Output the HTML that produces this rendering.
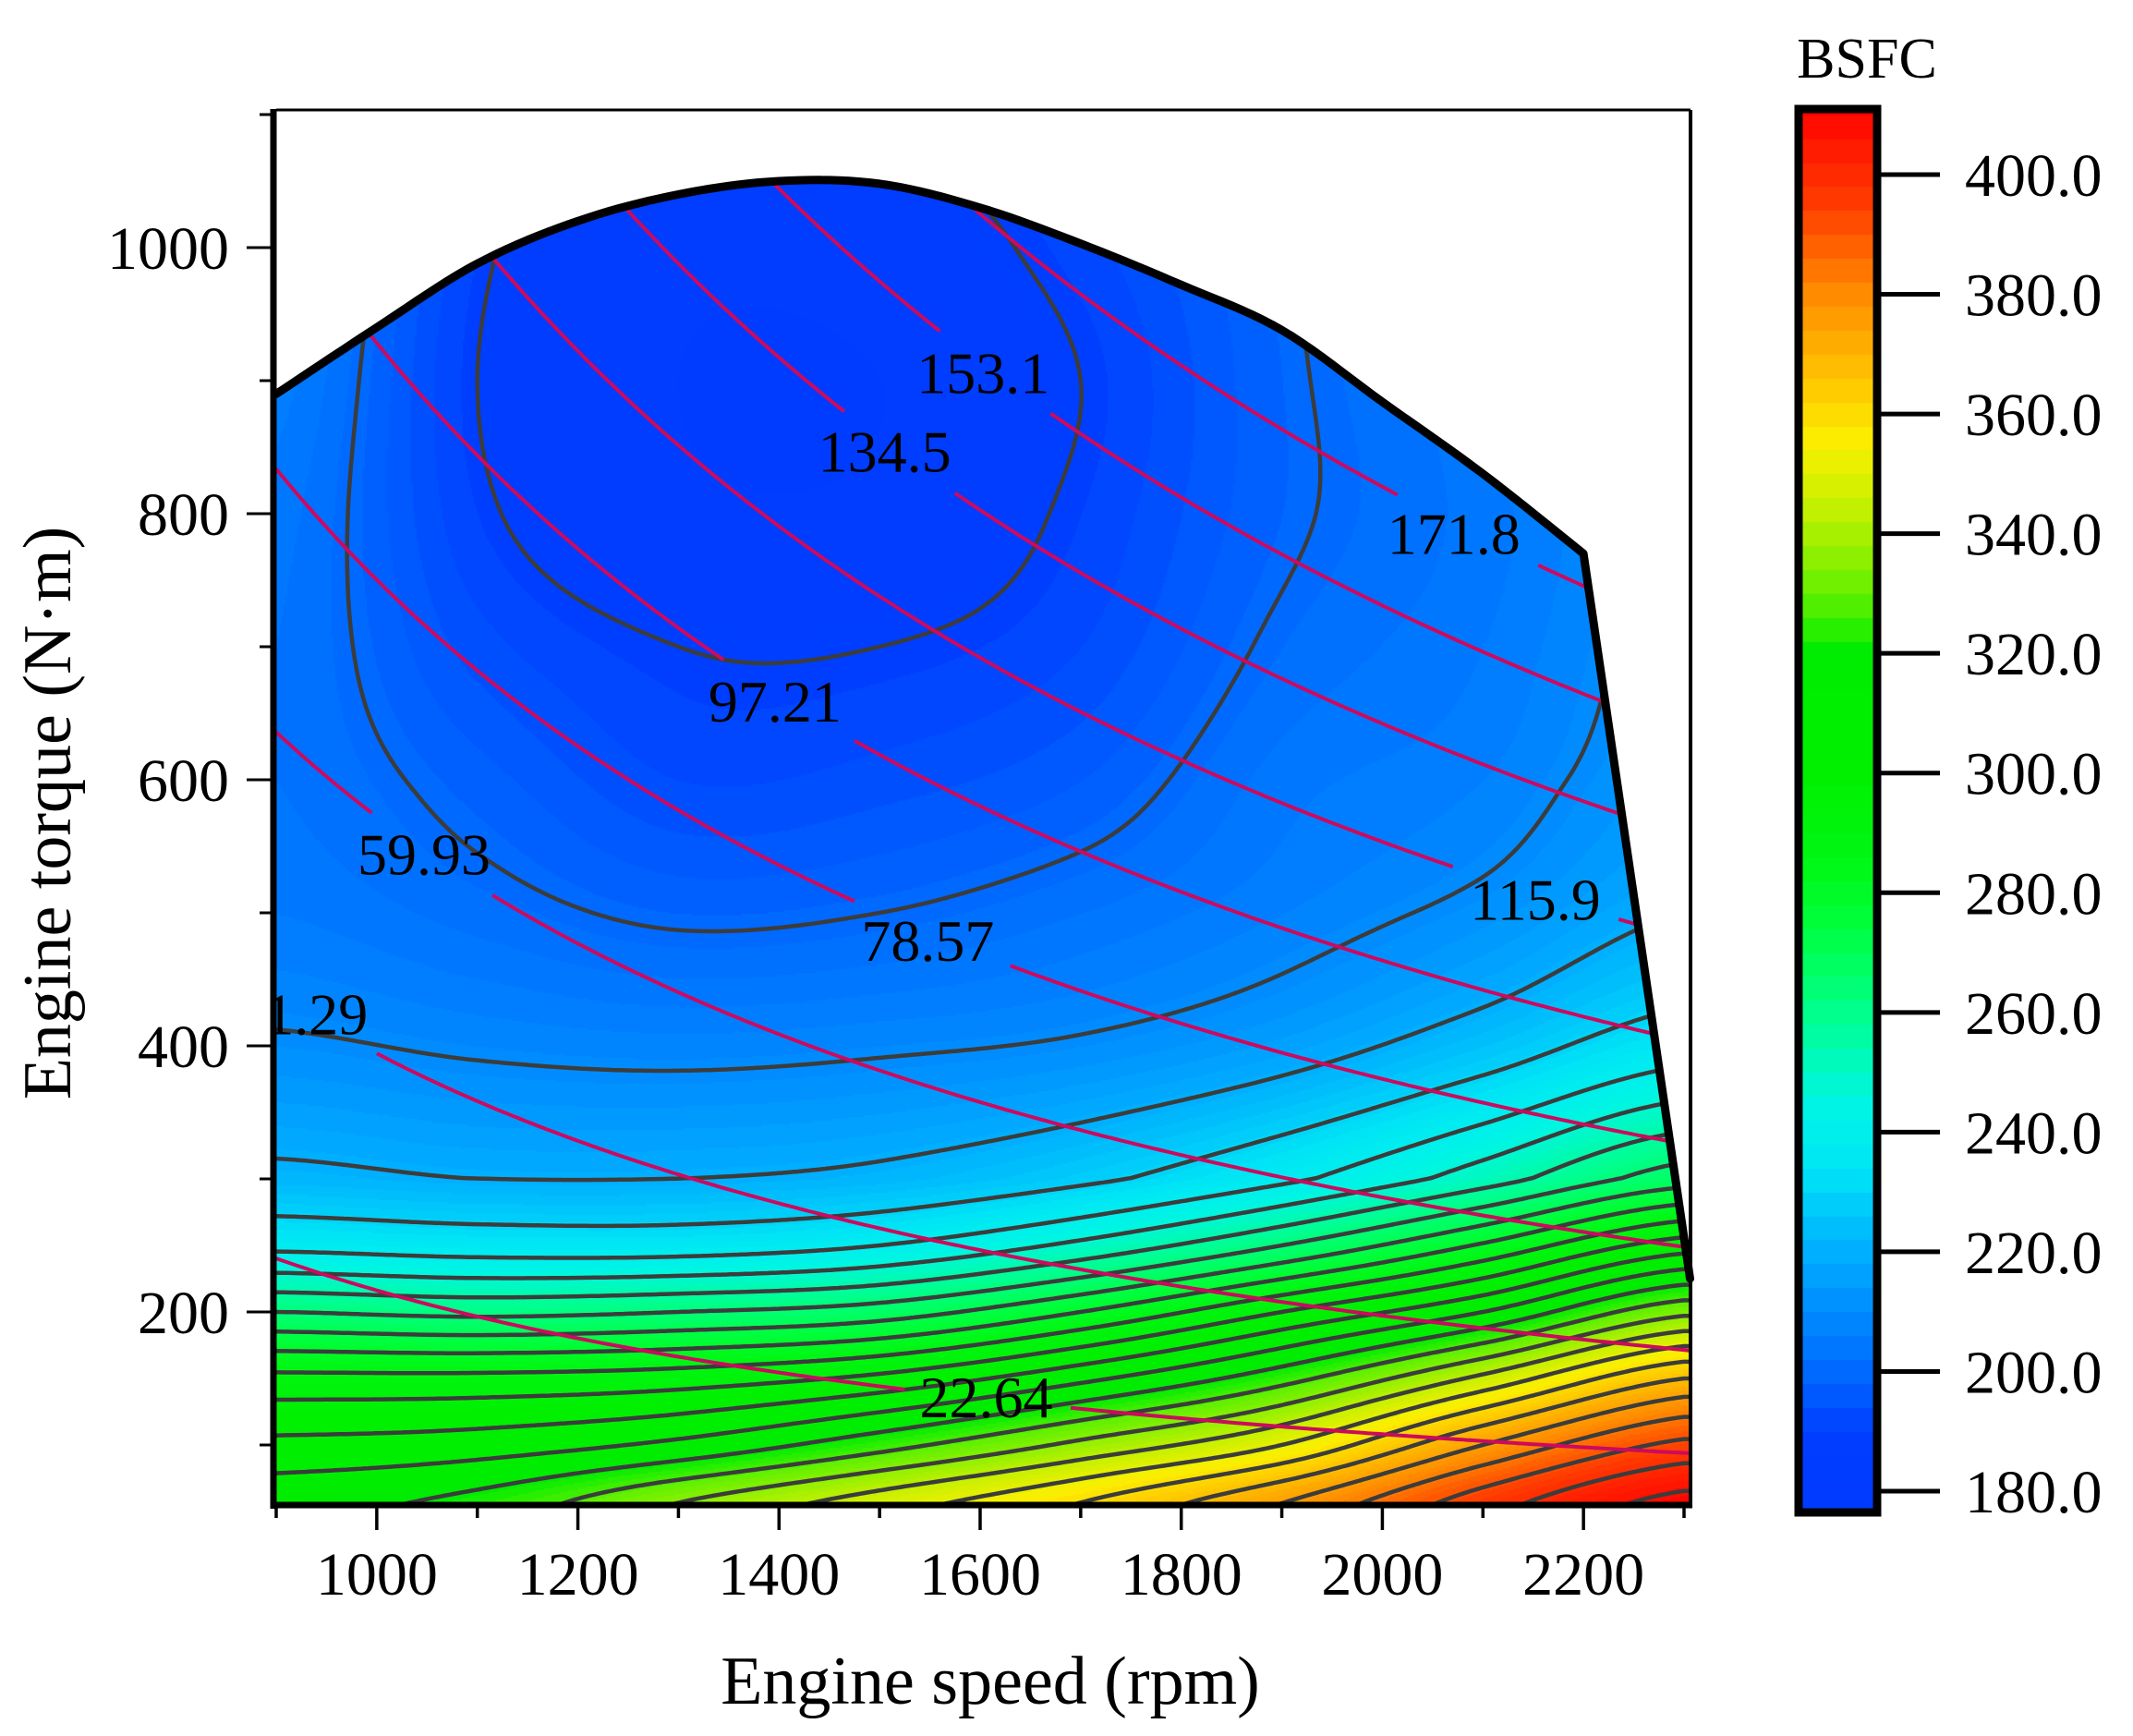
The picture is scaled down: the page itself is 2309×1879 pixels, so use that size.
<!DOCTYPE html>
<html><head><meta charset="utf-8">
<style>
html,body{margin:0;padding:0;background:#fff;}
#wrap{position:relative;width:2309px;height:1879px;overflow:hidden;font-family:"Liberation Serif",serif;}
canvas,svg{position:absolute;left:0;top:0;}
</style></head>
<body>
<div id="wrap">
<canvas id="fill" width="2309" height="1879"></canvas>
<svg id="svg" width="2309" height="1879" xmlns="http://www.w3.org/2000/svg"></svg>
</div>
<script>
// ---- data ----
const speeds=[900,1100,1300,1500,1700,1900,2100,2300];
const torques=[50,100,150,200,250,300,400,500,600,700,800,900,1000,1100];
const bsfc900 =[318,306,290,264,238,222,211,205,203,203,204,206,208,210];
const bsfc1100=[324,308,290,262,236,220,209,202,198,194,191,190,191,193];
const bsfc1300=[338,314,292,264,236,220,208,199,193,190,186,185,186,188];
const bsfc1500=[350,325,298,268,240,222,209,200,194,190,186,185,187,189];
const bsfc1700=[362,338,310,280,250,228,211,203,197,193,191,190,192,195];
const bsfc1900=[378,352,325,296,264,238,216,207,204,201,199,199,200,203];
const bsfc2100=[398,376,346,312,281,252,225,212,207,205,204,205,207,210];
const bsfc2300=[412,394,368,334,300,268,236,220,214,212,211,212,214,216];
const bsfc=[bsfc900,bsfc1100,bsfc1300,bsfc1500,bsfc1700,bsfc1900,bsfc2100,bsfc2300];
const limitSpeed=[900,1000,1100,1200,1300,1400,1500,1600,1700,1800,1900,2000,2100,2200];
const limitTorque=[890,940,988,1020,1040,1050,1048,1030,1003,972,938,884,830,770];
const limitEndSpeed=2306, limitEndTorque=225;
const powerLevels=[22.64,41.29,59.93,78.57,97.21,115.9,134.5,153.1,171.8];
const powerLabelSpeed=[1606,925,1047,1548,1396,2152,1505,1603,2071];
const powerLabelTorque=[136,424,544,479,659,510,847,906,785];
const contourLevels=[190,200,210,220,230,240,248,256,264,272,280,288,296,304,312,320,328,336,344,352,360,368,376,384,392,400,408];
const xTicks=[1000,1200,1400,1600,1800,2000,2200];
const yTicks=[200,400,600,800,1000];
const cbTicks=[180,200,220,240,260,280,300,320,340,360,380,400];

// ---- axes ----
const X0=299,X1=1830,Y0=1629,Y1=119;
function xPx(s){return 299+(s-900)*(1823-299)/1400;}
function yPx(t){return 1420-(t-200)*1.44;}
function sFromX(x){return 900+(x-299)*1400/(1823-299);}
function tFromY(y){return 200+(1420-y)/1.44;}

function cr(p0,p1,p2,p3,t){return 0.5*((2*p1)+(-p0+p2)*t+(2*p0-5*p1+4*p2-p3)*t*t+(-p0+3*p1-3*p2+p3)*t*t*t);}
function tIndex(t){
  if(t<=torques[0])return (t-torques[0])/(torques[1]-torques[0]);
  for(let j=0;j<torques.length-1;j++){if(t<=torques[j+1])return j+(t-torques[j])/(torques[j+1]-torques[j]);}
  const n=torques.length-1;return n+(t-torques[n])/(torques[n]-torques[n-1]);
}
function cl(a,n){return Math.max(0,Math.min(n-1,a));}
function val(s,t){
  let fi=(s-speeds[0])/(speeds[1]-speeds[0]);fi=Math.max(0,Math.min(speeds.length-1.0001,fi));
  let fj=tIndex(t);fj=Math.max(0,Math.min(torques.length-1.0001,fj));
  const i=Math.floor(fi),j=Math.floor(fj),u=fi-i,v=fj-j;
  const ni=speeds.length,nj=torques.length;const col=[];
  for(let k=-1;k<=2;k++){const r=bsfc[cl(i+k,ni)];
    col.push(cr(r[cl(j-1,nj)],r[cl(j,nj)],r[cl(j+1,nj)],r[cl(j+2,nj)],v));}
  return cr(col[0],col[1],col[2],col[3],u);
}
const cmV=[176,190,200,210,220,235,245,260,275,285,300,320,330,345,355,365,380,395,412];
const cmC=[[0,58,255],[0,62,255],[0,105,255],[0,140,255],[0,175,255],[0,232,245],[0,245,228],[0,255,140],[0,255,60],[0,248,20],[0,240,0],[0,236,0],[100,240,0],[200,240,0],[250,240,0],[255,200,0],[255,140,0],[255,60,0],[255,0,0]];
function cmap(v){
  v=Math.round(v/2)*2;
  if(v<=cmV[0])return cmC[0];
  for(let k=0;k<cmV.length-1;k++){if(v<=cmV[k+1]){const f=(v-cmV[k])/(cmV[k+1]-cmV[k]);
    return cmC[k].map((c,q)=>Math.round(c+(cmC[k+1][q]-c)*f));}}
  return cmC[cmC.length-1];
}
function boundaryPts(){
  const p=limitSpeed.map((s,k)=>[xPx(s),yPx(limitTorque[k])]);
  const out=[];
  for(let k=0;k<p.length-1;k++){
    const a=p[Math.max(0,k-1)],b=p[k],c=p[k+1],d=p[Math.min(p.length-1,k+2)];
    for(let q=0;q<10;q++){const t=q/10;out.push([cr(a[0],b[0],c[0],d[0],t),cr(a[1],b[1],c[1],d[1],t)]);}
  }
  out.push(p[p.length-1]);
  out.push([xPx(limitEndSpeed),yPx(limitEndTorque)]);
  return out;
}

// ---- fill ----
const cv=document.getElementById('fill');const ctx=cv.getContext('2d');
const W=X1-X0,H=Y0-Y1;
const img=ctx.createImageData(W,H);
for(let y=0;y<H;y+=2){const t=tFromY(Y1+y);
  for(let x=0;x<W;x+=2){const s=sFromX(X0+x);const c=cmap(val(s,t));
    for(let dy=0;dy<2&&y+dy<H;dy++)for(let dx=0;dx<2&&x+dx<W;dx++){const p=((y+dy)*W+x+dx)*4;img.data[p]=c[0];img.data[p+1]=c[1];img.data[p+2]=c[2];img.data[p+3]=255;}}}
const off=document.createElement('canvas');off.width=W;off.height=H;off.getContext('2d').putImageData(img,0,0);
const bp=boundaryPts();
ctx.save();ctx.beginPath();
ctx.moveTo(X0,Y0);bp.forEach(p=>ctx.lineTo(p[0],p[1]));ctx.lineTo(bp[bp.length-1][0],Y0);ctx.closePath();ctx.clip();
ctx.drawImage(off,X0,Y1);ctx.restore();
// colorbar
const CBX0=1951,CBX1=2028,CBY0=122,CBY1=1634;
function cbY(v){return 1614-(v-180)*1425/220;}
for(let y=CBY0;y<CBY1;y++){const v=180+(1614-y)*220/1425;const c=cmap(Math.round(v/4)*4);ctx.fillStyle='rgb('+c+')';ctx.fillRect(CBX0,y,CBX1-CBX0,1);}

// ---- svg ----
const NS='http://www.w3.org/2000/svg';const svg=document.getElementById('svg');
function mk(tag,attrs,parent){const e=document.createElementNS(NS,tag);for(const k in attrs)e.setAttribute(k,attrs[k]);(parent||svg).appendChild(e);return e;}
const defs=mk('defs',{});
const cp=mk('clipPath',{id:'reg'},defs);
mk('path',{d:'M'+X0+' '+Y0+' '+bp.map(p=>'L'+p[0].toFixed(1)+' '+p[1].toFixed(1)).join(' ')+' L'+bp[bp.length-1][0].toFixed(1)+' '+Y0+'Z'},cp);
const cp2=mk('clipPath',{id:'plot'},defs);
mk('rect',{x:X0,y:Y1,width:W,height:H},cp2);

// contours via marching squares
const step=4;const gx=Math.ceil(W/step)+1,gy=Math.ceil(H/step)+1;const G=[];
for(let j=0;j<gy;j++){const row=[];const t=tFromY(Y1+j*step);for(let i=0;i<gx;i++)row.push(val(sFromX(X0+i*step),t));G.push(row);}
const cg=mk('g',{'clip-path':'url(#reg)'});


contourLevels.forEach(L=>{
  let d='';
  for(let j=0;j<gy-1;j++)for(let i=0;i<gx-1;i++){
    const a=G[j][i],b=G[j][i+1],c=G[j+1][i+1],e=G[j+1][i];
    const x=X0+i*step,y=Y1+j*step;const pts=[];
    function ed(v1,v2,x1,y1,x2,y2){if((v1<L)!==(v2<L)){const f=(L-v1)/(v2-v1);pts.push([x1+(x2-x1)*f,y1+(y2-y1)*f]);}}
    ed(a,b,x,y,x+step,y);ed(b,c,x+step,y,x+step,y+step);ed(c,e,x+step,y+step,x,y+step);ed(e,a,x,y+step,x,y);
    for(let k=0;k+1<pts.length;k+=2)d+='M'+pts[k][0].toFixed(1)+' '+pts[k][1].toFixed(1)+'L'+pts[k+1][0].toFixed(1)+' '+pts[k+1][1].toFixed(1);
  }
  if(d){const p=mk('path',{d:d,stroke:'#3c3c3c','stroke-width':4.5,fill:'none','stroke-linecap':'round'},cg);
    
    }
});

// power lines
const pg=mk('g',{'clip-path':'url(#reg)'});


powerLevels.forEach((P,k)=>{
  const lx=xPx(powerLabelSpeed[k]),ly=yPx(powerLabelTorque[k]);
  let d='';let pen=false;
  for(let s=900;s<=2310;s+=5){const t=P*60000/(2*Math.PI*s);const x=xPx(s),y=yPx(t);
    const inGap=Math.abs(x-lx)<88&&Math.abs(y-ly)<42;
    if(inGap){pen=false;continue;}
    d+=(pen?'L':'M')+x.toFixed(1)+' '+y.toFixed(1);pen=true;}
  const p=mk('path',{d:d,stroke:'#cc0a5e','stroke-width':4,fill:'none'},pg);
  
  
});
const lg=mk('g',{'clip-path':'url(#plot)'});
powerLevels.forEach((P,k)=>{
  const t=mk('text',{x:xPx(powerLabelSpeed[k]),y:yPx(powerLabelTorque[k])+22,'text-anchor':'middle','font-size':64,'font-family':'Liberation Serif, serif',fill:'#000'},lg);
  t.textContent=String(P);
  
  
});

// boundary
const bl=mk('polyline',{points:bp.map(p=>p[0].toFixed(1)+','+p[1].toFixed(1)).join(' '),fill:'none',stroke:'#000','stroke-width':9,'stroke-linejoin':'round','stroke-linecap':'round'});



// frame
const fr=mk('g',{});


mk('line',{x1:X0,y1:Y1,x2:X1,y2:Y1,stroke:'#000','stroke-width':3},fr);
mk('line',{x1:X1,y1:Y1,x2:X1,y2:Y0,stroke:'#000','stroke-width':4},fr);
mk('line',{x1:X0-3,y1:Y1-1,x2:X0-3,y2:Y0+4,stroke:'#000','stroke-width':7},fr);
mk('line',{x1:X0-6,y1:Y0,x2:X1+2,y2:Y0,stroke:'#000','stroke-width':7},fr);

// x ticks
const xg=mk('g',{});


for(let s=900;s<=2300;s+=100){const major=xTicks.indexOf(s)>=0;
  mk('line',{x1:xPx(s),y1:Y0,x2:xPx(s),y2:Y0+(major?27:14),stroke:'#000','stroke-width':3.5},xg);}
xTicks.forEach(s=>{const t=mk('text',{x:xPx(s),y:1726,'text-anchor':'middle','font-size':66,'font-family':'Liberation Serif, serif'},xg);t.textContent=s;
  
  });
const xt=mk('text',{x:1072,y:1844,'text-anchor':'middle','font-size':74,'font-family':'Liberation Serif, serif'});
xt.textContent='Engine speed (rpm)';



// y ticks
const yg=mk('g',{});


for(let t=100;t<=1100;t+=100){const major=yTicks.indexOf(t)>=0;
  mk('line',{x1:X0-(major?32:18),y1:yPx(t),x2:X0,y2:yPx(t),stroke:'#000','stroke-width':3},yg);}
yTicks.forEach(v=>{const t=mk('text',{x:248,y:yPx(v)+23,'text-anchor':'end','font-size':66,'font-family':'Liberation Serif, serif'},yg);t.textContent=v;
  
  });
const yt=mk('text',{x:76,y:880,'text-anchor':'middle','font-size':74,'font-family':'Liberation Serif, serif',transform:'rotate(-90 76 880)'});
yt.textContent='Engine torque (N·m)';



// colorbar
const cb=mk('g',{});


mk('rect',{x:1947,y:118,width:85,height:1519,fill:'none',stroke:'#000','stroke-width':9},cb);
cbTicks.forEach(v=>{const y=cbY(v);
  mk('line',{x1:2032,y1:y,x2:2100,y2:y,stroke:'#000','stroke-width':5},cb);
  const t=mk('text',{x:2127,y:y+23,'font-size':66,'font-family':'Liberation Serif, serif'},cb);t.textContent=v.toFixed(1);
  
  });
const ct=mk('text',{x:2021,y:84,'text-anchor':'middle','font-size':62,'font-family':'Liberation Serif, serif'});
ct.textContent='BSFC';


</script>
</body></html>
